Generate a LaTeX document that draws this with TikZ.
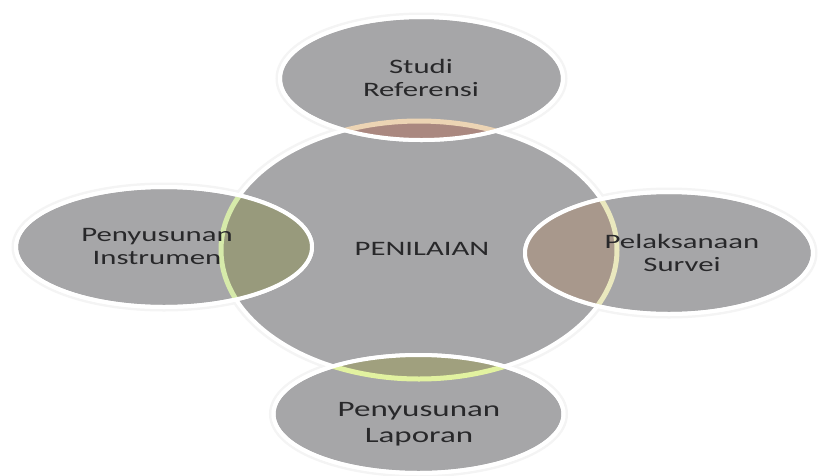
\documentclass[tikz,border=0pt]{standalone}
\usepackage{fontspec}
\setmainfont{Carlito}
\definecolor{disc}{RGB}{166,166,168}
\definecolor{txt}{RGB}{40,40,42}
\definecolor{halo}{RGB}{244,244,244}
\definecolor{lensT}{RGB}{170,136,128}
\definecolor{lineT}{RGB}{236,212,180}
\definecolor{lensL}{RGB}{152,154,124}
\definecolor{lineL}{RGB}{214,234,170}
\definecolor{lensR}{RGB}{168,152,140}
\definecolor{lineR}{RGB}{234,232,190}
\definecolor{lensB}{RGB}{160,160,126}
\definecolor{lineB}{RGB}{226,242,160}
\tikzset{
  pC/.style={insert path={(419,250) ellipse [x radius=198pt, y radius=129pt]}},
  pT/.style={insert path={(421.5,78.5) ellipse [x radius=141.5pt, y radius=61.5pt]}},
  pL/.style={insert path={(164,247) ellipse [x radius=148pt, y radius=60pt]}},
  pR/.style={insert path={(669,253) ellipse [x radius=144pt, y radius=61pt]}},
  pB/.style={insert path={(418.5,414) ellipse [x radius=145pt, y radius=59pt]}},
  glow/.style={draw=halo, line width=9pt},
  blob/.style={fill=disc, draw=white, line width=4pt},
  rim/.style={draw=white, line width=4pt},
  label/.style={font=\fontsize{20.5}{23}\selectfont, text=txt, align=center, xscale=1.5, inner sep=0pt}
}
\begin{document}
\begin{tikzpicture}[x=1pt,y=-1pt]
\useasboundingbox (0,0) rectangle (823,475);
\fill[white] (0,0) rectangle (823,475);
% halos
\path[glow,pC]; \path[glow,pT]; \path[glow,pL]; \path[glow,pR]; \path[glow,pB];
% central disc
\path[blob,pC];
% satellite discs
\path[blob,pT]; \path[blob,pL]; \path[blob,pR]; \path[blob,pB];
% lenses
\begin{scope} \clip[pT]; \fill[lensT,pC]; \draw[lineT,line width=5pt,pC]; \end{scope}
\begin{scope} \clip[pL]; \fill[lensL,pC]; \draw[lineL,line width=5pt,pC]; \end{scope}
\begin{scope} \clip[pR]; \fill[lensR,pC]; \draw[lineR,line width=5pt,pC]; \end{scope}
\begin{scope} \clip[pB]; \fill[lensB,pC]; \draw[lineB,line width=5pt,pC]; \end{scope}
\path[rim,pT]; \path[rim,pL]; \path[rim,pR]; \path[rim,pB];
% texts
\node[label] (studi) at (421,78) {Studi\\Referensi};
\node[label] (instr) at (157,246) {Penyusunan\\Instrumen};
\node[label] (survei) at (682,253) {Pelaksanaan\\Survei};
\node[label] (nilai) at (422,249) {PENILAIAN};
\node[label, font=\fontsize{22}{26}\selectfont] (lapor) at (419,424) {Penyusunan\\Laporan};
\end{tikzpicture}
\end{document}
